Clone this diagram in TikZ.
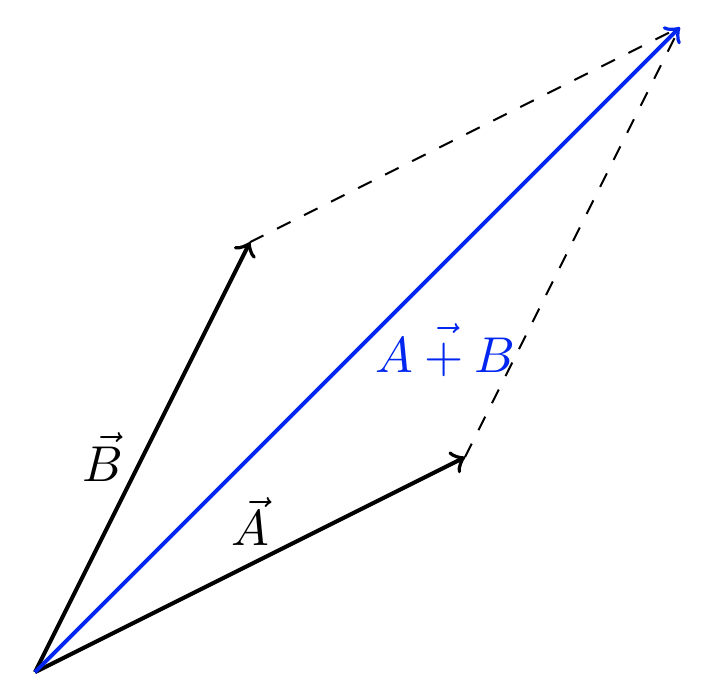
\documentclass[tikz,border=0pt]{standalone}
\definecolor{sumblue}{RGB}{0,38,240}
\begin{document}
\begin{tikzpicture}[
  vecline/.style={thick,->},
  sumline/.style={thick,->,sumblue},
  helper/.style={dashed}]
\useasboundingbox (-0.244,-0.167) rectangle (4.738,4.69);
\coordinate (O) at (0,0);
\coordinate (A) at (3,1.5);
\coordinate (B) at (1.5,3);
\coordinate (S) at (4.5,4.5);
\draw[vecline] (O) -- node[midway,above] {$\vec{A}$} (A);
\draw[vecline] (O) -- node[midway,left] {$\vec{B}$} (B);
\draw[helper] (A) -- (S);
\draw[helper] (B) -- (S);
\draw[sumline] (O) -- (S);
\node[sumblue,anchor=base west] (L) at (2.25,2.09) {$\vec{A+B}$};
\end{tikzpicture}
\end{document}
